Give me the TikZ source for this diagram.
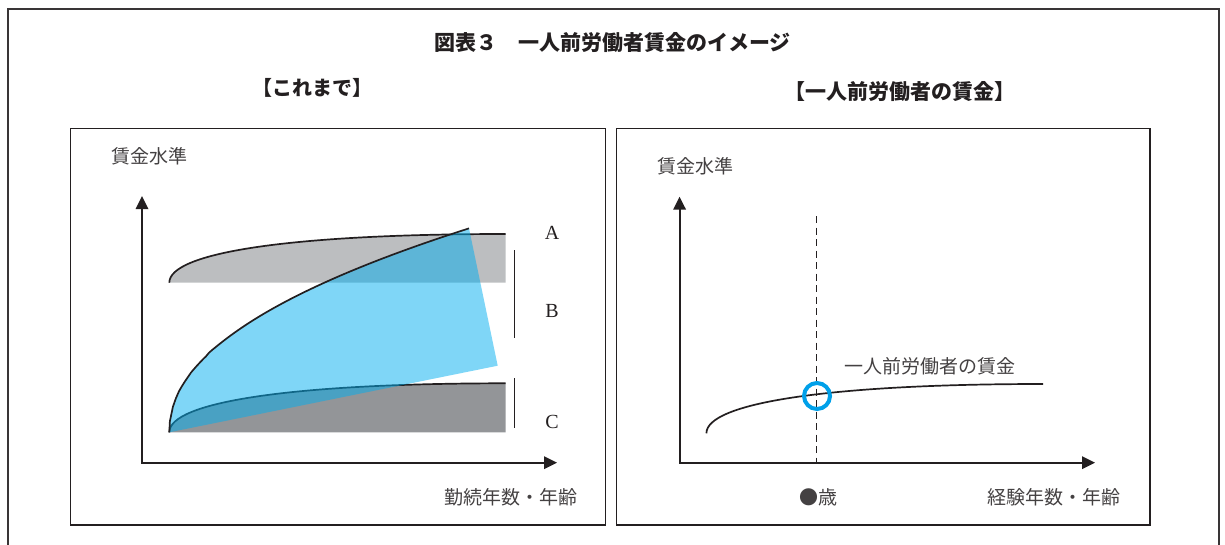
\documentclass[tikz,border=0pt]{standalone}
\usepackage{fontspec}
\setmainfont{Liberation Serif}
\newfontfamily\jp{Noto Sans CJK JP}
\usetikzlibrary{arrows.meta}
\definecolor{bandA}{RGB}{188,190,192}
\definecolor{bandC}{RGB}{147,149,152}
\definecolor{skyb}{RGB}{0,174,239}
\definecolor{ringb}{RGB}{0,160,233}
\definecolor{ink}{RGB}{35,31,32}
\tikzset{
  frame/.style={draw=ink!90, line width=2pt},
  panel/.style={draw=ink, line width=1.5pt},
  axis/.style={draw=ink, line width=1.8pt, {Triangle[length=13pt,width=12.5pt]}-{Triangle[length=13pt,width=12.5pt]}},
  curve/.style={draw=ink, line width=1.7pt},
  bar/.style={draw=ink, line width=1.6pt},
  title/.style={inner sep=0pt, text=ink, font=\jp\bfseries\fontsize{21}{25}\selectfont},
  head/.style={inner sep=0pt, text=ink, font=\jp\bfseries\fontsize{20}{24}\selectfont},
  lab/.style={inner sep=0pt, text=ink!85, font=\jp\fontsize{19}{23}\selectfont},
  letter/.style={inner sep=0pt, text=ink, font=\fontsize{20}{24}\selectfont},
}
\begin{document}
\begin{tikzpicture}[x=1pt,y=-1pt]
\useasboundingbox (0,0) rectangle (1225,544);
% outer frame
\draw[frame] (8,545) -- (8,9) -- (1219,9) -- (1219,545);
% titles
\node[title] (ttl) at (612.5,43) {図表３　一人前労働者賃金のイメージ};
\node[head] (hl) at (312,88) {【これまで】};
\node[head,font=\jp\bfseries\fontsize{21}{25}\selectfont] (hr) at (900,92) {【一人前労働者の賃金】};
% panels
\draw[panel] (70.7,128.3) rectangle (605.4,525);
\draw[panel] (616.4,128.3) rectangle (1150,525);

% ---- left panel ----
\fill[bandA] (169.3,282.7) .. controls (169.3,252.7) and (289.3,234) .. (505.7,234) -- (505.7,282.7) -- cycle;
\draw[curve] (169.3,282.7) .. controls (169.3,252.7) and (289.3,234) .. (505.7,234);
\fill[bandC] (169.3,432.3) .. controls (169.3,402.3) and (289.3,383.3) .. (505.7,383.3) -- (505.7,432.3) -- cycle;
\draw[curve] (169.3,432.3) .. controls (169.3,402.3) and (289.3,383.3) .. (505.7,383.3);
\fill[skyb,opacity=0.5] (169.3,432.3) -- plot[domain=0.002:1,samples=100] ({169.3+300*\x},{432.3-204*(\x)^0.47}) -- (497.7,365.7) -- cycle;
\draw[curve] (169.3,432.3) -- plot[domain=0.002:1,samples=100] ({169.3+300*\x},{432.3-204*(\x)^0.47});
\draw[bar] (514.6,250) -- (514.6,338);
\draw[bar] (514.6,378) -- (514.6,428.3);
\draw[axis] (142,196) -- (142,462.7) -- (557,462.7);
\node[letter] (la) at (552,233) {A};
\node[letter] (lb) at (552,311) {B};
\node[letter] (lc) at (552,421.7) {C};
\node[lab,anchor=west] (yl) at (111,156) {賃金水準};
\node[lab,anchor=east] (xl) at (578,497.5) {勤続年数・年齢};

% ---- right panel ----
\draw[axis] (679.6,196.7) -- (679.6,462.7) -- (1095,462.7);
\draw[draw=ink, line width=1.3pt, dash pattern=on 7pt off 4.5pt] (816.8,216) -- (816.8,462.7);
\draw[curve] (706.4,433.3) .. controls (706.4,403.3) and (826.4,384) .. (1043,384);
\draw[ringb, line width=4pt] (817,396) circle (13);
\node[lab,anchor=west] (cl) at (844,366) {一人前労働者の賃金};
\node[lab] (age) at (818,497.5) {●歳};
\node[lab,anchor=east] (xr) at (1121,497.5) {経験年数・年齢};
\node[lab,anchor=west] (yr) at (657.5,166) {賃金水準};
\end{tikzpicture}
\end{document}
